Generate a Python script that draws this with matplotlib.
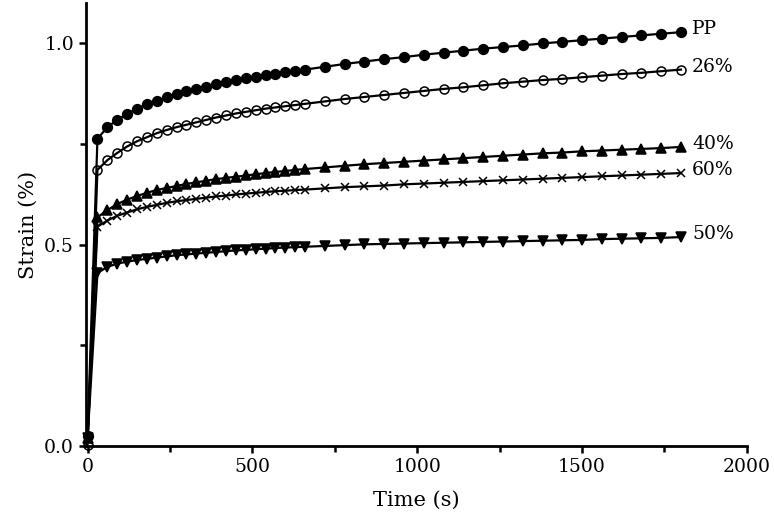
import matplotlib
matplotlib.use("Agg")
import matplotlib.pyplot as plt
from matplotlib.ticker import MultipleLocator

# creep test, strain vs time
time_s = [0, 30, 60, 90, 120, 150, 180, 210, 240, 270, 300, 330, 360, 390, 420,
          450, 480, 510, 540, 570, 600, 630, 660, 720, 780, 840, 900, 960, 1020,
          1080, 1140, 1200, 1260, 1320, 1380, 1440, 1500, 1560, 1620, 1680, 1740, 1800]

pp = [0.025, 0.763, 0.792, 0.810, 0.825, 0.838, 0.849, 0.858, 0.866, 0.874, 0.881,
      0.887, 0.893, 0.899, 0.904, 0.909, 0.913, 0.917, 0.921, 0.925, 0.929, 0.932,
      0.935, 0.942, 0.949, 0.955, 0.961, 0.966, 0.972, 0.977, 0.982, 0.987, 0.991,
      0.995, 1.000, 1.004, 1.008, 1.012, 1.016, 1.020, 1.024, 1.028]
c26 = [0.003, 0.686, 0.710, 0.728, 0.744, 0.757, 0.767, 0.777, 0.785, 0.792, 0.798,
       0.804, 0.810, 0.816, 0.821, 0.826, 0.830, 0.834, 0.838, 0.841, 0.844, 0.847,
       0.850, 0.856, 0.862, 0.867, 0.872, 0.877, 0.882, 0.887, 0.891, 0.896, 0.901,
       0.905, 0.909, 0.912, 0.916, 0.920, 0.924, 0.927, 0.931, 0.935]
c40 = [0.020, 0.568, 0.586, 0.601, 0.612, 0.621, 0.629, 0.636, 0.641, 0.646, 0.651,
       0.655, 0.659, 0.663, 0.666, 0.669, 0.672, 0.675, 0.678, 0.681, 0.683, 0.686,
       0.688, 0.692, 0.696, 0.700, 0.703, 0.706, 0.709, 0.712, 0.715, 0.718, 0.721,
       0.724, 0.727, 0.729, 0.732, 0.734, 0.736, 0.738, 0.740, 0.743]
c60 = [0.015, 0.545, 0.560, 0.572, 0.580, 0.588, 0.594, 0.599, 0.604, 0.608, 0.611,
       0.614, 0.617, 0.620, 0.622, 0.625, 0.627, 0.629, 0.631, 0.633, 0.634, 0.636,
       0.637, 0.640, 0.643, 0.645, 0.647, 0.650, 0.652, 0.654, 0.656, 0.658, 0.660,
       0.662, 0.664, 0.666, 0.668, 0.670, 0.672, 0.674, 0.676, 0.678]
c50 = [0.020, 0.430, 0.445, 0.453, 0.458, 0.462, 0.465, 0.468, 0.471, 0.474, 0.476,
       0.478, 0.480, 0.482, 0.484, 0.486, 0.487, 0.489, 0.490, 0.492, 0.493, 0.494,
       0.495, 0.497, 0.499, 0.501, 0.502, 0.503, 0.504, 0.505, 0.506, 0.507, 0.508,
       0.509, 0.510, 0.511, 0.512, 0.514, 0.515, 0.516, 0.517, 0.519]

labels = ["PP", "26%", "40%", "60%", "50%"]
series = [pp, c26, c40, c60, c50]
markers = ["o", "o", "^", "x", "v"]
fills = ["black", "none", "black", "black", "black"]
msizes = [7, 6.5, 7, 6, 7]

plt.rcParams["font.family"] = "DejaVu Serif"
fig = plt.figure(figsize=(7.74, 5.26), dpi=100)
ax = fig.add_axes([0.111, 0.152, 0.854, 0.842])

for y, lab, m, fc, ms in zip(series, labels, markers, fills, msizes):
    ax.plot(time_s, y, color="black", lw=1.6, marker=m, ms=ms,
            mfc=fc, mec="black", mew=1.1, clip_on=False)
    ax.annotate(lab, (time_s[-1], y[-1]), xytext=(8, 2), textcoords="offset points",
                fontsize=13.5, va="center", ha="left")

ax.set_xlim(-5, 2000)
ax.set_ylim(0, 1.1)
ax.xaxis.set_major_locator(MultipleLocator(500))
ax.xaxis.set_minor_locator(MultipleLocator(250))
ax.yaxis.set_major_locator(MultipleLocator(0.5))
ax.yaxis.set_minor_locator(MultipleLocator(0.25))
ax.yaxis.set_major_formatter(plt.FormatStrFormatter("%.1f"))

for s in ["top", "right"]:
    ax.spines[s].set_visible(False)
for s in ["left", "bottom"]:
    ax.spines[s].set_linewidth(2)
ax.tick_params(which="major", length=5, width=1.8, labelsize=13.5, direction="out")
ax.tick_params(which="minor", length=4, width=1.8, direction="out")

ax.set_xlabel("Time (s)", fontsize=15, labelpad=11)
ax.set_ylabel("Strain (%)", fontsize=15, labelpad=5)

fig.savefig("out.png", dpi=100)
